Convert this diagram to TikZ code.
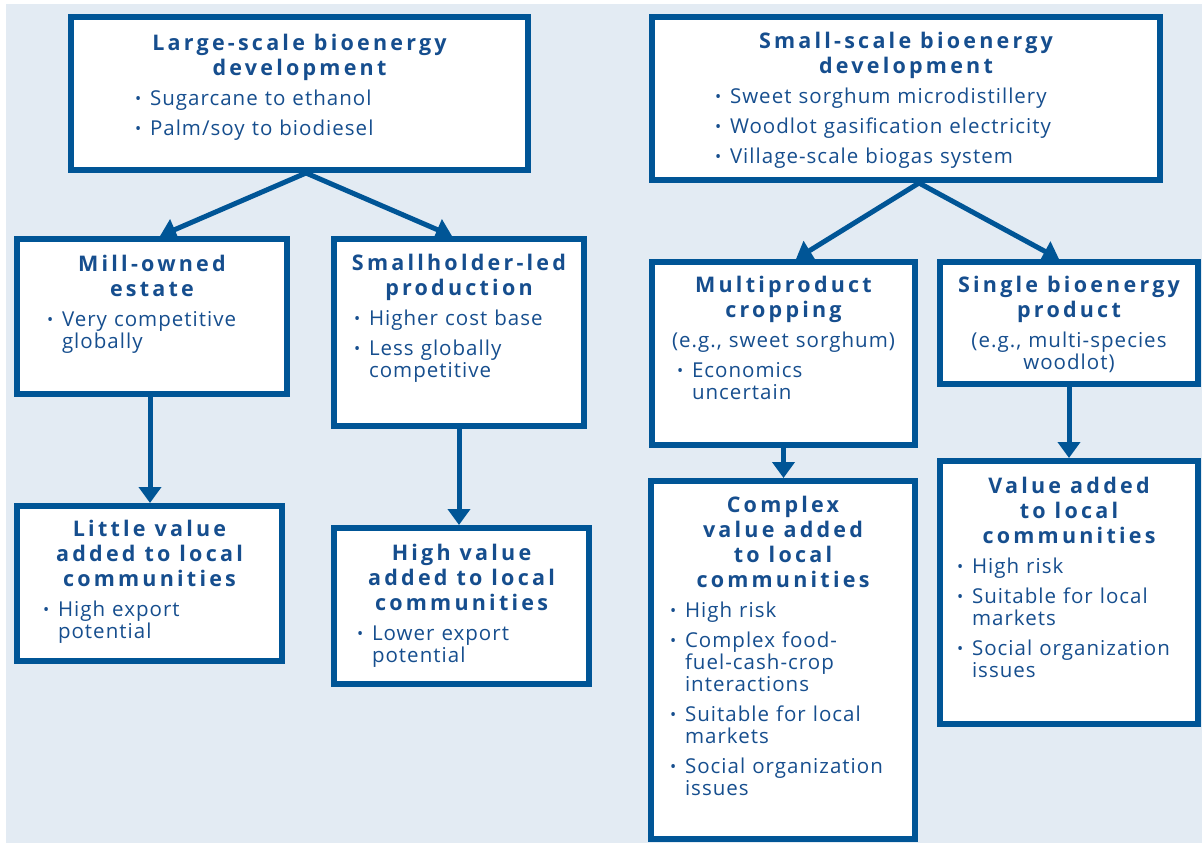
\documentclass[tikz,border=0pt]{standalone}
\usepackage{fontspec}
\usepackage{graphicx}
\usetikzlibrary{arrows.meta}

\newfontfamily\headfont{Open Sans}[LetterSpace=15]
\newfontfamily\bodyfont{Open Sans}[LetterSpace=5]

\definecolor{panelblue}{RGB}{0,85,150}
\definecolor{inkblue}{RGB}{22,78,142}
\definecolor{paper}{RGB}{227,235,243}

% heading line, centred
\newcommand{\hd}[1]{\par{\headfont\bfseries\fontsize{21.5}{25}\selectfont\spaceskip=9pt\noindent\makebox[\hsize]{#1}\par}}
% bullet item, lines broken by hand
\newcommand{\itm}[1]{\par\vspace{8pt}{\bodyfont\fontsize{20.5}{22}\selectfont\spaceskip=7pt\raggedright\let\\\newline\noindent\hangindent=15pt\hangafter=1\makebox[15pt][l]{\raisebox{1pt}{\scalebox{0.8}{\textbullet}}}#1\par}}
% example line, centred
\newcommand{\eg}[1]{\par\vspace{8pt}{\bodyfont\fontsize{20.5}{22}\selectfont\spaceskip=7pt\noindent\makebox[\hsize]{#1}\par}}
\newcommand{\ctr}[1]{\par{\bodyfont\fontsize{20.5}{22}\selectfont\spaceskip=7pt\noindent\makebox[\hsize]{#1}\par}}

\begin{document}
\begin{tikzpicture}[x=1pt, y=-1pt,
	panel/.style={draw=panelblue, line width=6pt, fill=white, inner sep=0pt},
	paneltext/.style={anchor=north, inner sep=0pt, text=inkblue},
	link/.style={draw=panelblue, line width=5pt, -{Triangle[width=22pt,length=16pt]}}]
	\useasboundingbox (0,0) rectangle (1202,843);
	\fill[paper] (6,4) rectangle (1202,843);

	% boxes
	\draw (299.5, 93.5) 	node[panel, minimum width=457pt, minimum height=153pt] 	(large) 	{};
	\draw (906, 98.5) 		node[panel, minimum width=508pt, minimum height=163pt] 	(small) 	{};
	\draw (152, 316.5) 		node[panel, minimum width=270pt, minimum height=155pt] 	(mill) 		{};
	\draw (459, 332.5) 		node[panel, minimum width=250pt, minimum height=187pt] 	(holder) 	{};
	\draw (783.5, 353.5) 	node[panel, minimum width=263pt, minimum height=183pt] 	(multi) 	{};
	\draw (1069, 323) 		node[panel, minimum width=258pt, minimum height=122pt] 	(single) 	{};
	\draw (149.5, 583.5) 	node[panel, minimum width=265pt, minimum height=155pt] 	(little) 	{};
	\draw (461.5, 606) 		node[panel, minimum width=255pt, minimum height=156pt] 	(high) 		{};
	\draw (783, 660) 		node[panel, minimum width=264pt, minimum height=358pt] 	(complex) 	{};
	\draw (1069, 592.5) 	node[panel, minimum width=258pt, minimum height=263pt] 	(valueadd) 	{};

	% texts
	\draw (299.5, 25.5) 	node[paneltext, text width=329pt] 	(large_txt) 	{\hd{Large-scale bioenergy}\hd{development}\itm{Sugarcane to ethanol}\itm{Palm/soy to biodiesel}};
	\draw (906, 23.5) 		node[paneltext, text width=382pt] 	(small_txt) 	{\hd{Small-scale bioenergy}\hd{development}\itm{Sweet sorghum microdistillery}\itm{Woodlot gasification electricity}\itm{Village-scale biogas system}};
	\draw (152, 246.5) 		node[paneltext, text width=210pt] 	(mill_txt) 		{\hd{Mill-owned}\hd{estate}\itm{Very competitive\\globally}};
	\draw (459, 245.5) 		node[paneltext, text width=210pt] 	(holder_txt) 	{\hd{Smallholder-led}\hd{production}\itm{Higher cost base}\itm{Less globally\\competitive}};
	\draw (783.5, 267.5) 	node[paneltext, text width=213pt] 	(multi_txt) 	{\hd{Multiproduct}\hd{cropping}\eg{(e.g., sweet sorghum)}\itm{Economics\\uncertain}};
	\draw (1069, 267.5) 	node[paneltext, text width=240pt] 	(single_txt) 	{\hd{Single bioenergy}\hd{product}\eg{(e.g., multi-species}\ctr{woodlot)}};
	\draw (149.5, 511.5) 	node[paneltext, text width=213pt] 	(little_txt) 	{\hd{Little value}\hd{added to local}\hd{communities}\itm{High export\\potential}};
	\draw (461.5, 535.5) 	node[paneltext, text width=209pt] 	(high_txt) 		{\hd{High value}\hd{added to local}\hd{communities}\itm{Lower export\\potential}};
	\draw (783, 487.5) 		node[paneltext, text width=226pt] 	(complex_txt) 	{\hd{Complex}\hd{value added}\hd{to local}\hd{communities}\itm{High risk}\itm{Complex food-\\fuel-cash-crop\\interactions}\itm{Suitable for local\\markets}\itm{Social organization\\issues}};
	\draw (1069, 468.5) 	node[paneltext, text width=224pt] 	(valueadd_txt) 	{\hd{Value added}\hd{to local}\hd{communities}\itm{High risk}\itm{Suitable for local\\markets}\itm{Social organization\\issues}};

	% arrows
	\draw[link] ([xshift=6.5pt]large.south) -- ([xshift=8pt]mill.north);
	\draw[link] ([xshift=6.5pt]large.south) -- ([xshift=-7pt]holder.north);
	\draw[link] ([xshift=13pt]small.south) -- ([xshift=12.5pt]multi.north);
	\draw[link] ([xshift=13pt]small.south) -- ([xshift=-10pt]single.north);
	\draw[link] ([xshift=-2pt]mill.south) -- ([xshift=-2pt]mill.south |- little.north);
	\draw[link] (holder.south) -- (holder.south |- high.north);
	\draw[link] (multi.south) -- (multi.south |- complex.north);
	\draw[link] (single.south) -- (single.south |- valueadd.north);
\end{tikzpicture}
\end{document}
